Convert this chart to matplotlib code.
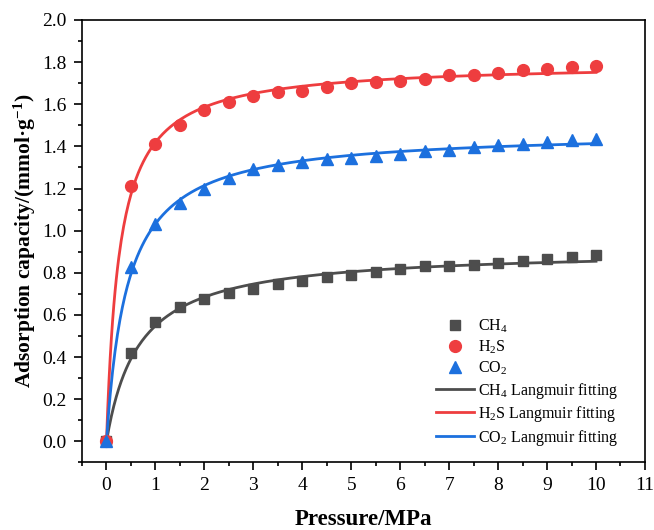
import numpy as np
import matplotlib
matplotlib.use("Agg")
import matplotlib.pyplot as plt
from matplotlib.ticker import MultipleLocator

plt.rcParams['font.family'] = ['Liberation Serif', 'DejaVu Serif']
plt.rcParams['mathtext.fontset'] = 'custom'
plt.rcParams['mathtext.rm'] = 'Liberation Serif'
plt.rcParams['mathtext.it'] = 'Liberation Serif:italic'
plt.rcParams['mathtext.bf'] = 'Liberation Serif:bold'

# pressure (MPa)
pressure = [0, 0.5, 1, 1.5, 2, 2.5, 3, 3.5, 4, 4.5, 5, 5.5, 6, 6.5, 7, 7.5, 8, 8.5, 9, 9.5, 10]

# adsorption capacity (mmol/g)
ch4 = [0, 0.418, 0.567, 0.638, 0.676, 0.703, 0.722, 0.749, 0.762, 0.778, 0.790,
       0.806, 0.818, 0.833, 0.833, 0.838, 0.845, 0.857, 0.868, 0.873, 0.886]
h2s = [0, 1.210, 1.413, 1.503, 1.572, 1.611, 1.640, 1.659, 1.664, 1.683, 1.700,
       1.708, 1.711, 1.719, 1.738, 1.738, 1.749, 1.762, 1.767, 1.778, 1.781]
co2 = [0, 0.826, 1.030, 1.130, 1.196, 1.252, 1.292, 1.313, 1.328, 1.338, 1.346,
       1.354, 1.365, 1.376, 1.384, 1.397, 1.408, 1.413, 1.421, 1.429, 1.437]

c_ch4 = '#4d4d4d'
c_h2s = '#ee3d3f'
c_co2 = '#1c70de'


def langmuir_fit(p, q):
    # simple least squares: scan b, qm has closed form for each b
    p = np.asarray(p, float)
    q = np.asarray(q, float)
    best = None
    for b in np.linspace(0.05, 20, 8000):
        f = b * p / (1 + b * p)
        qm = (f * q).sum() / (f * f).sum()
        err = ((qm * f - q) ** 2).sum()
        if best is None or err < best[0]:
            best = (err, qm, b)
    return best[1], best[2]


fig, ax = plt.subplots(figsize=(6.54, 5.30), dpi=100)
fig.subplots_adjust(left=0.1254, right=0.9862, bottom=0.1274, top=0.9623)

pp = np.linspace(0, 10, 400)
for data, color, mk, ms, lbl in [(ch4, c_ch4, 's', 7.5, r'CH$_4$'),
                                 (h2s, c_h2s, 'o', 8.5, r'H$_2$S'),
                                 (co2, c_co2, '^', 9, r'CO$_2$')]:
    ax.plot(pressure, data, linestyle='none', marker=mk, ms=ms, color=color,
            label=lbl, zorder=3)

for data, color, lbl in [(ch4, c_ch4, r'CH$_4$ Langmuir fitting'),
                         (h2s, c_h2s, r'H$_2$S Langmuir fitting'),
                         (co2, c_co2, r'CO$_2$ Langmuir fitting')]:
    qm, b = langmuir_fit(pressure, data)
    ax.plot(pp, qm * b * pp / (1 + b * pp), color=color, lw=2, label=lbl, zorder=2)

ax.set_xlim(-0.5, 11)
ax.set_ylim(-0.1, 2.0)
ax.xaxis.set_major_locator(MultipleLocator(1))
ax.xaxis.set_minor_locator(MultipleLocator(0.5))
ax.yaxis.set_major_locator(MultipleLocator(0.2))
ax.yaxis.set_minor_locator(MultipleLocator(0.1))
ax.yaxis.set_major_formatter(plt.FormatStrFormatter('%.1f'))
ax.tick_params(which='both', direction='out', top=False, right=False, width=1.2,
               labelsize=14)
ax.tick_params(which='major', length=6)
ax.tick_params(which='minor', length=3)
ax.tick_params(axis='x', pad=4.5)
ax.tick_params(axis='y', pad=5)
for s in ax.spines.values():
    s.set_linewidth(1.2)

ax.set_xlabel('Pressure/MPa', fontsize=16.5, fontweight='bold', labelpad=11)
ax.set_ylabel(r'Adsorption capacity/(mmol·g$^{\mathbf{-1}}$)', fontsize=15.5,
              fontweight='bold', labelpad=3)

ax.legend(loc='lower right', bbox_to_anchor=(0.97, 0.012), frameon=False,
          fontsize=11.5, handlelength=2.4, handletextpad=0.25, labelspacing=0.22,
          borderaxespad=0.2)

fig.savefig('out.png', dpi=100)
